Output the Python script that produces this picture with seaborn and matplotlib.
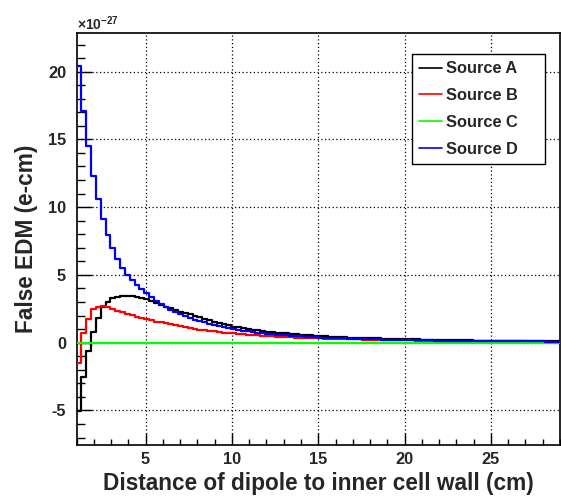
import numpy as np
import pandas as pd
import seaborn as sns
import matplotlib
matplotlib.use("Agg")
import matplotlib.pyplot as plt
from matplotlib.lines import Line2D
from matplotlib.ticker import MultipleLocator

# histogram binning (cm)
bin_lo, bin_hi, n_bins = 1.0, 29.0, 100

# false EDM per bin, units of 1e-27 e-cm
source_a = [
    -5.02, -2.51, -0.59, 0.81, 1.80, 2.62, 3.03, 3.28, 3.40, 3.46,
    3.47, 3.44, 3.38, 3.29, 3.19, 3.05, 2.91, 2.78, 2.66, 2.54,
    2.42, 2.30, 2.19, 2.08, 1.97, 1.87, 1.77, 1.65, 1.53, 1.44,
    1.35, 1.27, 1.19, 1.12, 1.06, 1.00, 0.95, 0.90, 0.86, 0.82,
    0.78, 0.75, 0.72, 0.68, 0.65, 0.62, 0.59, 0.56, 0.53, 0.51,
    0.49, 0.47, 0.45, 0.43, 0.41, 0.40, 0.38, 0.37, 0.35, 0.34,
    0.33, 0.32, 0.31, 0.30, 0.29, 0.28, 0.27, 0.26, 0.25, 0.24,
    0.235, 0.23, 0.22, 0.21, 0.205, 0.20, 0.19, 0.185, 0.18, 0.175,
    0.17, 0.165, 0.16, 0.155, 0.15, 0.145, 0.14, 0.135, 0.13, 0.127,
    0.123, 0.12, 0.117, 0.113, 0.11, 0.107, 0.104, 0.101, 0.098, 0.095,
]
source_b = [
    -1.52, 0.69, 1.78, 2.47, 2.66, 2.71, 2.62, 2.50, 2.37, 2.24,
    2.12, 2.01, 1.91, 1.82, 1.73, 1.64, 1.56, 1.49, 1.42, 1.35,
    1.28, 1.21, 1.15, 1.08, 1.03, 0.97, 0.92, 0.87, 0.83, 0.79,
    0.75, 0.71, 0.68, 0.65, 0.62, 0.59, 0.56, 0.53, 0.51, 0.49,
    0.46, 0.44, 0.42, 0.41, 0.39, 0.37, 0.36, 0.34, 0.33, 0.32,
    0.31, 0.30, 0.29, 0.28, 0.27, 0.26, 0.25, 0.24, 0.235, 0.225,
    0.22, 0.21, 0.205, 0.20, 0.19, 0.185, 0.18, 0.175, 0.17, 0.165,
    0.16, 0.155, 0.15, 0.145, 0.14, 0.137, 0.133, 0.13, 0.126, 0.122,
    0.119, 0.116, 0.113, 0.11, 0.107, 0.104, 0.101, 0.099, 0.096, 0.094,
    0.091, 0.089, 0.087, 0.085, 0.083, 0.081, 0.079, 0.077, 0.075, 0.073,
]
source_c = [0.0] * 100
source_d = [
    20.38, 17.12, 14.49, 12.32, 10.60, 9.14, 7.96, 6.98, 6.16, 5.50,
    5.02, 4.60, 4.25, 3.93, 3.64, 3.36, 3.10, 2.86, 2.64, 2.44,
    2.26, 2.10, 1.95, 1.82, 1.70, 1.59, 1.49, 1.40, 1.31, 1.23,
    1.15, 1.08, 1.01, 0.95, 0.89, 0.84, 0.79, 0.75, 0.71, 0.67,
    0.63, 0.60, 0.57, 0.54, 0.51, 0.49, 0.46, 0.44, 0.42, 0.40,
    0.38, 0.365, 0.35, 0.335, 0.32, 0.31, 0.30, 0.285, 0.275, 0.265,
    0.255, 0.245, 0.24, 0.23, 0.22, 0.215, 0.21, 0.20, 0.195, 0.19,
    0.18, 0.175, 0.17, 0.165, 0.16, 0.155, 0.15, 0.145, 0.14, 0.137,
    0.133, 0.13, 0.126, 0.122, 0.119, 0.116, 0.113, 0.11, 0.107, 0.104,
    0.101, 0.099, 0.096, 0.094, 0.091, 0.089, 0.087, 0.085, 0.083, 0.081,
]
labels = ["Source A", "Source B", "Source C", "Source D"]
colors = ["#000000", "#ff0000", "#00ff00", "#0000ff"]

sns.set_theme(style="ticks")
plt.rcParams["font.family"] = ["Liberation Sans", "DejaVu Sans"]
plt.rcParams["font.weight"] = "bold"
plt.rcParams["axes.unicode_minus"] = False
plt.rcParams["mathtext.fontset"] = "custom"
plt.rcParams["mathtext.rm"] = "Liberation Sans"
plt.rcParams["mathtext.bf"] = "Liberation Sans:bold"

edges = np.linspace(bin_lo, bin_hi, n_bins + 1)
centers = (edges[:-1] + edges[1:]) / 2

fig = plt.figure(figsize=(5.61, 4.98), dpi=100)
ax = fig.add_axes([76.5 / 561, 53 / 498, 483.5 / 561, 412 / 498])

for vals, lab, col in zip([source_a, source_b, source_c, source_d], labels, colors):
    df = pd.DataFrame({"x": centers, "w": vals})
    sns.histplot(data=df, x="x", weights="w", bins=edges.tolist(), element="step",
                 fill=False, color=col, linewidth=1.6, ax=ax, zorder=3)

ax.set_xlim(bin_lo, bin_hi)
ax.set_ylim(-7.55, 22.85)
ax.xaxis.set_major_locator(MultipleLocator(5))
ax.xaxis.set_minor_locator(MultipleLocator(1))
ax.yaxis.set_major_locator(MultipleLocator(5))
ax.yaxis.set_minor_locator(MultipleLocator(1))
ax.set_xticks([5, 10, 15, 20, 25])
ax.grid(True, which="major", color="black", linestyle=(0, (1, 2)), linewidth=0.9)
ax.set_axisbelow(True)

ax.tick_params(which="both", direction="in", top=False, right=False,
               width=1.0, color="black", labelsize=11.8)
ax.tick_params(axis="y", which="major", length=10.8, pad=7.5)
ax.tick_params(axis="y", which="minor", length=5.6)
ax.tick_params(axis="x", which="major", length=9, pad=5)
ax.tick_params(axis="x", which="minor", length=4)
for s in ax.spines.values():
    s.set_linewidth(1.2)
    s.set_color("black")

ax.set_xlabel("Distance of dipole to inner cell wall (cm)", fontsize=16.3,
              fontweight="bold", va="baseline")
ax.set_ylabel("False EDM (e-cm)", fontsize=16.3, fontweight="bold", va="baseline")
ax.xaxis.set_label_coords(0.5, -45 / 412)
ax.yaxis.set_label_coords(-43.5 / 483.5, 0.5)

fig.text(77 / 561, 1 - 30 / 498, r"$\times\mathbf{10^{-27}}$", fontsize=10,
         va="baseline", ha="left")

handles = [Line2D([], [], color=c, linewidth=1.2) for c in colors]
leg_top = (445 - 54.5) / 412
leg = ax.legend(handles, labels, loc="upper left",
                bbox_to_anchor=(335.2 / 483.5, 0.5, 133.3 / 483.5, leg_top - 0.5),
                mode="expand", borderaxespad=0, fontsize=11.8, frameon=True,
                fancybox=False, framealpha=1, edgecolor="black",
                handlelength=1.42, handletextpad=0.26, labelspacing=0.72,
                borderpad=0.42)
leg.get_frame().set_linewidth(1.0)
for t in leg.get_texts():
    t.set_fontweight("bold")

fig.savefig("out.png", dpi=100)
